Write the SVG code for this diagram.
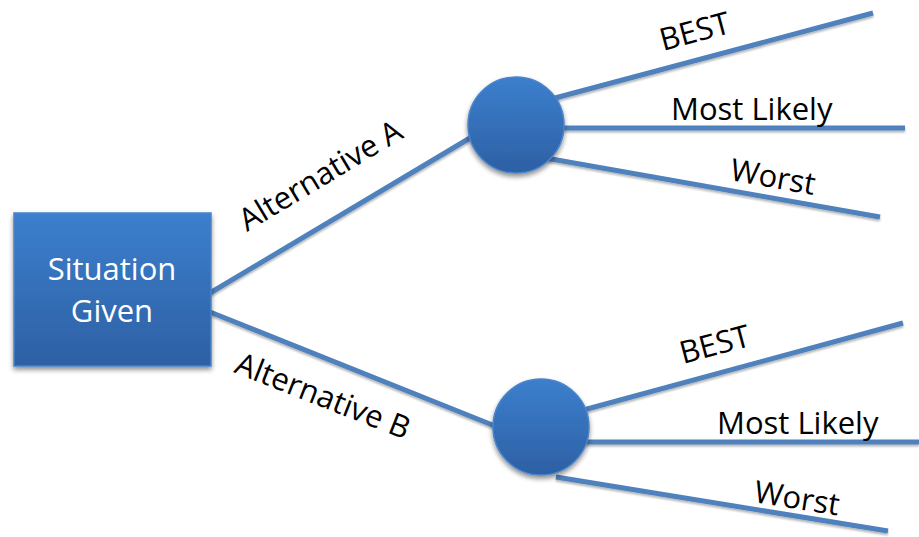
<svg xmlns="http://www.w3.org/2000/svg" width="919" height="537" viewBox="0 0 919 537">
  <defs>
    <linearGradient id="nodeFill" x1="0" y1="0" x2="0" y2="1">
      <stop offset="0" stop-color="#3c7fcd"/>
      <stop offset="1" stop-color="#2d60a4"/>
    </linearGradient>
    <filter id="shadow" x="-20%" y="-20%" width="140%" height="150%">
      <feGaussianBlur in="SourceAlpha" stdDeviation="2.5"/>
      <feOffset dx="0" dy="3" result="b"/>
      <feComponentTransfer><feFuncA type="linear" slope="0.45"/></feComponentTransfer>
      <feMerge><feMergeNode/><feMergeNode in="SourceGraphic"/></feMerge>
    </filter>
    <filter id="lineShadow" x="-5%" y="-50%" width="110%" height="200%">
      <feGaussianBlur in="SourceAlpha" stdDeviation="1.2"/>
      <feOffset dx="0" dy="2" result="b"/>
      <feComponentTransfer><feFuncA type="linear" slope="0.3"/></feComponentTransfer>
      <feMerge><feMergeNode/><feMergeNode in="SourceGraphic"/></feMerge>
    </filter>
  </defs>
  <style>
    .edge { stroke: #4f81bd; stroke-width: 5; fill: none; }
    .node { fill: url(#nodeFill); stroke: #4a83c9; stroke-width: 1.5; filter: url(#shadow); }
    .lbl { font-family: "Open Sans", "Liberation Sans", sans-serif; font-size: 31px; fill: #000; }
    .nlbl { font-family: "Open Sans", "Liberation Sans", sans-serif; font-size: 31px; fill: #fff; text-anchor: middle; }
  </style>
  <rect width="919" height="537" fill="#fff"/>

  <!-- connectors -->
  <g id="connectors" filter="url(#lineShadow)">
    <line class="edge" x1="210" y1="293" x2="480" y2="132"/>
    <line class="edge" x1="210" y1="312" x2="500" y2="428"/>
    <line class="edge" x1="540" y1="102" x2="873" y2="13"/>
    <line class="edge" x1="540" y1="128" x2="905" y2="128"/>
    <line class="edge" x1="540" y1="157" x2="880" y2="217"/>
    <line class="edge" x1="565" y1="415" x2="903" y2="323"/>
    <line class="edge" x1="565" y1="442" x2="919" y2="442"/>
    <line class="edge" x1="556" y1="477" x2="888" y2="531"/>
  </g>

  <!-- connector labels -->
  <g id="edge-labels">
    <text class="lbl" transform="translate(247,232) rotate(-31)">Alternative A</text>
    <text class="lbl" transform="translate(233,372) rotate(21.5)">Alternative B</text>
    <text class="lbl" transform="translate(663,51) rotate(-15)">BEST</text>
    <text class="lbl" x="671" y="120">Most Likely</text>
    <text class="lbl" transform="translate(729,180) rotate(10)">Worst</text>
    <text class="lbl" transform="translate(683,364) rotate(-15)">BEST</text>
    <text class="lbl" x="717" y="434">Most Likely</text>
    <text class="lbl" transform="translate(753,502) rotate(9)">Worst</text>
  </g>

  <!-- decision node -->
  <g id="situation">
    <rect class="node" x="14" y="213" width="197" height="153"/>
    <text class="nlbl" x="112" y="280">Situation</text>
    <text class="nlbl" x="112" y="322">Given</text>
  </g>

  <!-- chance nodes -->
  <g id="chance-a">
    <circle class="node" cx="516" cy="125" r="48"/>
  </g>
  <g id="chance-b">
    <circle class="node" cx="541" cy="427" r="48"/>
  </g>
</svg>
